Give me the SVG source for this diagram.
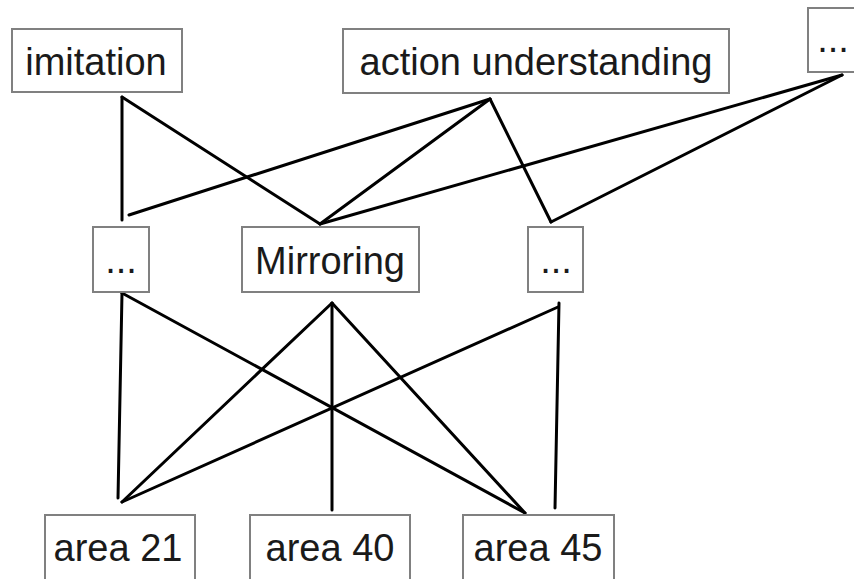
<svg xmlns="http://www.w3.org/2000/svg" width="854" height="579" viewBox="0 0 854 579">
<style>
.box{fill:#fff;stroke:#808080;stroke-width:2}
.lbl{font-family:"Liberation Sans",Arial,sans-serif;font-size:38px;fill:#1a1a1a;text-anchor:middle}
.edge{stroke:#000;stroke-width:3;fill:none;stroke-linecap:round}
</style>
<rect width="854" height="579" fill="#fff"/>
<g id="connectors">
<line class="edge" x1="122" y1="97" x2="122" y2="220"/>
<line class="edge" x1="122" y1="97" x2="320" y2="224"/>
<line class="edge" x1="129" y1="215" x2="490" y2="99"/>
<line class="edge" x1="490" y1="99" x2="320" y2="224"/>
<line class="edge" x1="490" y1="99" x2="551" y2="222"/>
<line class="edge" x1="842" y1="75" x2="320" y2="224"/>
<line class="edge" x1="842" y1="75" x2="551" y2="222"/>
<line class="edge" x1="122" y1="293" x2="118" y2="498"/>
<line class="edge" x1="122" y1="293" x2="525" y2="513"/>
<line class="edge" x1="332" y1="303" x2="122" y2="502"/>
<line class="edge" x1="332" y1="303" x2="332" y2="510"/>
<line class="edge" x1="332" y1="303" x2="525" y2="513"/>
<line class="edge" x1="558" y1="307" x2="122" y2="502"/>
<line class="edge" x1="559" y1="303" x2="555" y2="508"/>
</g>
<g id="imitation"><rect class="box" x="12" y="29" width="170" height="63"/><text class="lbl" x="96" y="75">imitation</text></g>
<g id="action-understanding"><rect class="box" x="343" y="29" width="386" height="64"/><text class="lbl" x="536" y="75">action understanding</text></g>
<g id="other-top"><rect class="box" x="808" y="8" width="50" height="64"/><text class="lbl" x="833" y="52">...</text></g>
<g id="other-left"><rect class="box" x="93" y="227" width="56" height="65"/><text class="lbl" x="121" y="273">...</text></g>
<g id="mirroring"><rect class="box" x="242" y="227" width="177" height="65"/><text class="lbl" x="330" y="274">Mirroring</text></g>
<g id="other-right"><rect class="box" x="528" y="227" width="55" height="65"/><text class="lbl" x="556" y="273">...</text></g>
<g id="area21"><rect class="box" x="45" y="515" width="150" height="70"/><text class="lbl" x="118" y="561">area 21</text></g>
<g id="area40"><rect class="box" x="250" y="515" width="160" height="70"/><text class="lbl" x="330" y="561">area 40</text></g>
<g id="area45"><rect class="box" x="463" y="515" width="151" height="70"/><text class="lbl" x="538" y="561">area 45</text></g>
</svg>
